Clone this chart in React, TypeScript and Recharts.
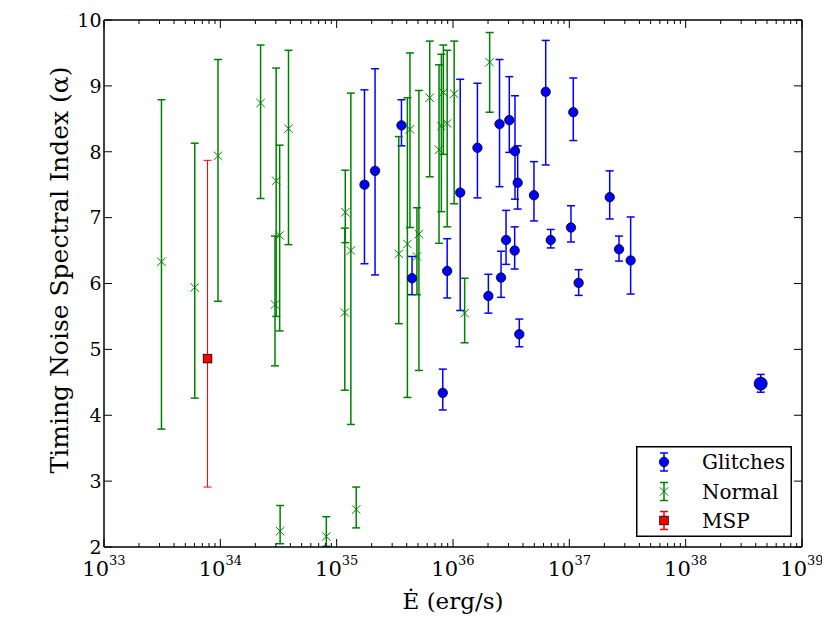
import React from 'react';
import { ScatterChart, Scatter, XAxis, YAxis, ErrorBar, Legend } from 'recharts';

// log10 of spin-down energy loss rate (erg/s), spectral index and its error range
const glitchLogE = [35.239, 35.33, 35.557, 35.648, 35.912, 35.95, 36.062, 36.21, 36.304, 36.40, 36.413, 36.456, 36.484, 36.533, 36.53, 36.556, 36.57, 36.696, 36.797, 36.84, 37.014, 37.034, 37.08, 37.347, 37.427, 37.527];
const glitchAlpha = [7.50, 7.71, 8.40, 6.08, 4.34, 6.19, 7.38, 8.06, 5.81, 8.42, 6.09, 6.66, 8.48, 8.01, 6.50, 7.53, 5.23, 7.34, 8.91, 6.66, 6.85, 8.60, 6.01, 7.31, 6.52, 6.35];
const glitchLow = [6.30, 6.13, 8.09, 5.83, 4.08, 5.78, 5.59, 7.30, 5.55, 7.47, 5.79, 6.29, 7.99, 7.28, 6.22, 7.13, 5.04, 6.95, 7.80, 6.54, 6.63, 8.17, 5.82, 6.98, 6.34, 5.84];
const glitchHigh = [8.94, 9.26, 8.79, 6.41, 4.70, 6.68, 9.10, 9.04, 6.14, 9.40, 6.49, 7.11, 9.14, 8.85, 6.86, 8.09, 5.46, 7.85, 9.69, 6.82, 7.18, 9.12, 6.21, 7.71, 6.72, 7.01];

const bigGlitchLogE = [38.645];
const bigGlitchAlpha = [4.48];
const bigGlitchLow = [4.35];
const bigGlitchHigh = [4.62];

const normalLogE = [33.494, 33.78, 33.98, 34.346, 34.48, 34.47, 34.51, 34.586, 34.514, 34.911, 35.074, 35.07, 35.122, 35.168, 35.534, 35.608, 35.63, 35.69, 35.707, 35.80, 35.88, 35.90, 35.917, 35.95, 36.01, 36.10, 36.315];
const normalAlpha = [6.33, 5.94, 7.94, 8.74, 7.56, 5.68, 6.73, 8.35, 2.24, 2.16, 7.08, 5.56, 6.50, 2.57, 6.45, 6.60, 8.34, 6.41, 6.75, 8.82, 8.03, 8.39, 8.90, 8.43, 8.88, 5.55, 9.36];
const normalLow = [3.79, 4.26, 5.73, 7.29, 5.50, 4.75, 5.28, 6.59, 2.05, 2.01, 6.62, 4.38, 3.86, 2.29, 5.39, 4.27, 6.85, 5.83, 4.68, 7.62, 6.61, 7.09, 7.96, 6.86, 7.21, 5.10, 8.60];
const normalHigh = [8.79, 8.13, 9.40, 9.62, 9.27, 6.72, 8.10, 9.54, 2.63, 2.46, 7.72, 6.84, 8.89, 2.91, 8.23, 8.82, 9.50, 7.15, 8.93, 9.68, 9.32, 9.48, 9.62, 9.54, 9.68, 6.08, 9.81];

const mspLogE = [33.89];
const mspAlpha = [4.86];
const mspLow = [2.91];
const mspHigh = [7.87];

const xMajorExponents = [33, 34, 35, 36, 37, 38, 39];
const minorMultipliers = [2, 3, 4, 5, 6, 7, 8, 9];
const yTickValues = [2, 3, 4, 5, 6, 7, 8, 9, 10];

const legendLabels = ['Glitches', 'Normal', 'MSP'];

const FONT = 'DejaVu Serif';
const BLUE = '#0000ff';
const GREEN = '#008000';
const RED = '#ff0000';

const buildRows = (xs: number[], ys: number[], lo: number[], hi: number[]) =>
  xs.map((x, i) => ({ x, y: ys[i], err: [ys[i] - lo[i], hi[i] - ys[i]] }));

const glitchRows = buildRows(glitchLogE, glitchAlpha, glitchLow, glitchHigh);
const bigGlitchRows = buildRows(bigGlitchLogE, bigGlitchAlpha, bigGlitchLow, bigGlitchHigh);
const normalRows = buildRows(normalLogE, normalAlpha, normalLow, normalHigh);
const mspRows = buildRows(mspLogE, mspAlpha, mspLow, mspHigh);

const xTicks: number[] = [];
xMajorExponents.forEach((d, i) => {
  xTicks.push(d);
  if (i < xMajorExponents.length - 1) minorMultipliers.forEach((m) => xTicks.push(d + Math.log10(m)));
});

const isMajor = (v: number) => Math.abs(v - Math.round(v)) < 1e-6;

const BottomTick = (props: any) => {
  const { x, y, payload } = props;
  const v = payload.value;
  const major = isMajor(v);
  return (
    <g>
      <line x1={x} x2={x} y1={y} y2={y - (major ? 8 : 4)} stroke="#000" strokeWidth={1} />
      {major && (
        <text x={x} y={y + 29} textAnchor="middle" fontFamily={FONT} fontSize={21} fill="#000">
          <tspan>10</tspan>
          <tspan dy={-11} fontSize={13}>{Math.round(v)}</tspan>
        </text>
      )}
    </g>
  );
};

const TopTick = (props: any) => {
  const { x, y, payload } = props;
  const major = isMajor(payload.value);
  return <line x1={x} x2={x} y1={y} y2={y + (major ? 8 : 4)} stroke="#000" strokeWidth={1} />;
};

const LeftTick = (props: any) => {
  const { x, y, payload } = props;
  return (
    <g>
      <line x1={x} x2={x + 8} y1={y} y2={y} stroke="#000" strokeWidth={1} />
      <text x={x - 2.5} y={y} dy="0.36em" textAnchor="end" fontFamily={FONT} fontSize={19} fill="#000">
        {payload.value}
      </text>
    </g>
  );
};

const RightTick = (props: any) => {
  const { x, y } = props;
  return <line x1={x} x2={x - 8} y1={y} y2={y} stroke="#000" strokeWidth={1} />;
};

const circleShape = (r: number) => (props: any) => (
  <circle cx={props.cx} cy={props.cy} r={r} fill={BLUE} stroke="#000" strokeWidth={0.8} />
);

const xShape = (props: any) => {
  const { cx, cy } = props;
  const h = 4.2;
  return (
    <path d={`M${cx - h},${cy - h}L${cx + h},${cy + h}M${cx - h},${cy + h}L${cx + h},${cy - h}`} stroke={GREEN} strokeWidth={1} fill="none" />
  );
};

const squareShape = (props: any) => {
  const { cx, cy } = props;
  const h = 4.3;
  return <rect x={cx - h} y={cy - h} width={2 * h} height={2 * h} fill={RED} stroke="#000" strokeWidth={0.8} />;
};

const LegendBox = () => {
  const rowsY = [16, 45.5, 74.5];
  const colors = [BLUE, GREEN, RED];
  const mx = 28;
  return (
    <svg width={156} height={91} style={{ display: 'block' }}>
      <rect x={0.75} y={0.75} width={154.5} height={89.5} fill="#fff" stroke="#000" strokeWidth={1.5} />
      {rowsY.map((ry, i) => (
        <g key={i}>
          <line x1={mx} x2={mx} y1={ry - 9} y2={ry + 9} stroke={colors[i]} strokeWidth={1.5} />
          <line x1={mx - 4} x2={mx + 4} y1={ry - 9} y2={ry - 9} stroke={colors[i]} strokeWidth={1.5} />
          <line x1={mx - 4} x2={mx + 4} y1={ry + 9} y2={ry + 9} stroke={colors[i]} strokeWidth={1.5} />
          {i === 0 && <circle cx={mx} cy={ry} r={4.7} fill={BLUE} stroke="#000" strokeWidth={0.8} />}
          {i === 1 && (
            <path d={`M${mx - 4.2},${ry - 4.2}L${mx + 4.2},${ry + 4.2}M${mx - 4.2},${ry + 4.2}L${mx + 4.2},${ry - 4.2}`} stroke={GREEN} strokeWidth={1} />
          )}
          {i === 2 && <rect x={mx - 4.3} y={ry - 4.3} width={8.6} height={8.6} fill={RED} stroke="#000" strokeWidth={0.8} />}
          <text x={66} y={ry} dy="0.36em" fontFamily={FONT} fontSize={20} fill="#000">
            {legendLabels[i]}
          </text>
        </g>
      ))}
    </svg>
  );
};

// Plot area in SVG coordinates: left 96, right 794, top 12, bottom 539
const PLOT_TOP = 12;
const PLOT_BOTTOM = 539;
const PLOT_LEFT = 96;
const PLOT_RIGHT = 794;

const XLabel = () => (
  <text x={(PLOT_LEFT + PLOT_RIGHT) / 2} y={PLOT_BOTTOM + 62} textAnchor="middle" fontFamily={FONT} fontSize={23} fill="#000">
    Ė (erg/s)
  </text>
);

const YLabel = () => (
  <text transform={`translate(59.5, 262) rotate(-90)`} textAnchor="middle" fontFamily={FONT} fontSize={25} fill="#000">
    Timing Noise Spectral Index (α)
  </text>
);

export default function App() {
  return (
    <div style={{ width: 822, height: 618, fontFamily: FONT, position: 'relative' }}>
      <ScatterChart width={822} height={618} margin={{ top: PLOT_TOP - 1, right: 822 - PLOT_RIGHT - 1, left: PLOT_LEFT - 1, bottom: 618 - PLOT_BOTTOM - 1 }}>
        <XAxis
          xAxisId="bottom"
          type="number"
          dataKey="x"
          domain={[33, 39]}
          ticks={xTicks}
          interval={0}
          allowDataOverflow
          height={1}
          tickSize={0}
          tickMargin={0}
          tick={BottomTick}
          axisLine={{ stroke: '#000', strokeWidth: 1.5 }}
          tickLine={false}
          label={<XLabel />}
        />
        <XAxis
          xAxisId="top"
          orientation="top"
          type="number"
          dataKey="x"
          domain={[33, 39]}
          ticks={xTicks}
          interval={0}
          allowDataOverflow
          height={1}
          tickSize={0}
          tickMargin={0}
          tick={TopTick}
          axisLine={{ stroke: '#000', strokeWidth: 1.5 }}
          tickLine={false}
        />
        <YAxis
          yAxisId="left"
          type="number"
          dataKey="y"
          domain={[2, 10]}
          ticks={yTickValues}
          interval={0}
          allowDataOverflow
          width={1}
          tickSize={0}
          tickMargin={0}
          tick={LeftTick}
          axisLine={{ stroke: '#000', strokeWidth: 1.5 }}
          tickLine={false}
          label={<YLabel />}
        />
        <YAxis
          yAxisId="right"
          orientation="right"
          type="number"
          dataKey="y"
          domain={[2, 10]}
          ticks={yTickValues}
          interval={0}
          allowDataOverflow
          width={1}
          tickSize={0}
          tickMargin={0}
          tick={RightTick}
          axisLine={{ stroke: '#000', strokeWidth: 1.5 }}
          tickLine={false}
        />
        <Scatter name="Glitches" data={glitchRows} xAxisId="bottom" yAxisId="left" shape={circleShape(4.7)} isAnimationActive={false}>
          <ErrorBar dataKey="err" direction="y" width={4} stroke={BLUE} strokeWidth={1.5} isAnimationActive={false} />
        </Scatter>
        <Scatter name="Normal" data={normalRows} xAxisId="bottom" yAxisId="left" shape={xShape} isAnimationActive={false}>
          <ErrorBar dataKey="err" direction="y" width={4} stroke={GREEN} strokeWidth={1.5} isAnimationActive={false} />
        </Scatter>
        <Scatter name="MSP" data={mspRows} xAxisId="bottom" yAxisId="left" shape={squareShape} isAnimationActive={false}>
          <ErrorBar dataKey="err" direction="y" width={4} stroke={RED} strokeWidth={1} isAnimationActive={false} />
        </Scatter>
        <Scatter name="GlitchesLarge" data={bigGlitchRows} xAxisId="bottom" yAxisId="left" shape={circleShape(6.5)} legendType="none" isAnimationActive={false}>
          <ErrorBar dataKey="err" direction="y" width={4} stroke={BLUE} strokeWidth={1.5} isAnimationActive={false} />
        </Scatter>
        <Legend
          layout="vertical"
          align="center"
          verticalAlign="middle"
          wrapperStyle={{ position: 'absolute', left: 628, top: 438, width: 156, height: 91 }}
          content={() => <LegendBox />}
        />
      </ScatterChart>
    </div>
  );
}
